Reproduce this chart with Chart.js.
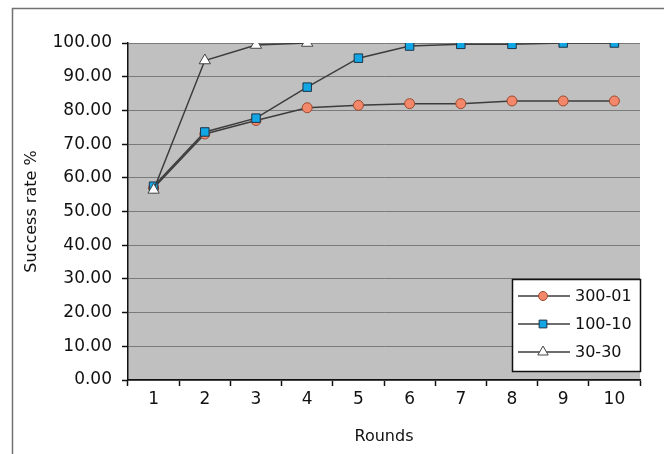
<!DOCTYPE html>
<html>
<head>
<meta charset="utf-8">
<script src="https://cdn.jsdelivr.net/npm/chart.js@4/dist/chart.umd.min.js"></script>
<style>
  html, body { margin: 0; padding: 0; background: #fff; }
  #wrap { position: relative; width: 664px; height: 454px; }
</style>
</head>
<body>
<div id="wrap"><canvas id="myLineChart" width="664" height="454"></canvas></div>
<script>
const rounds = ['1', '2', '3', '4', '5', '6', '7', '8', '9', '10'];
const yTicks = [0, 10, 20, 30, 40, 50, 60, 70, 80, 90, 100];
const seriesNames = ['300-01', '100-10', '30-30'];
const rate30001 = [57, 73, 77, 80.8, 81.5, 82, 82, 82.8, 82.8, 82.8];
const rate10010 = [57.5, 73.6, 77.7, 86.9, 95.5, 99.1, 99.6, 99.6, 100, 100];
const rate3030 = [56.4, 94.8, 99.4, 100, null, null, null, null, null, null];

const lineColor = '#3c3c3c';
const styles = [
    { pointStyle: 'circle', radius: 5, bg: '#f2876a', border: '#9a4a30' },
    { pointStyle: 'rect', radius: 6, bg: '#12a6e4', border: '#1c3448' },
    { pointStyle: 'triangle', radius: 6.5, bg: '#ffffff', border: '#444444' },
];
const fontFamily = '"DejaVu Sans", Verdana, sans-serif';

const frameAndBackground = {
    id: 'frameAndBackground',
    beforeDraw(chart) {
        const { ctx, chartArea: a } = chart;
        ctx.save();
        ctx.fillStyle = '#ffffff';
        ctx.fillRect(0, 0, chart.width, chart.height);
        ctx.strokeStyle = '#707070';
        ctx.lineWidth = 1.5;
        ctx.strokeRect(12.5, 8.5, 700, 500);
        ctx.fillStyle = '#c0c0c0';
        ctx.fillRect(a.left, a.top, a.right - a.left, a.bottom - a.top);
        ctx.restore();
    },
    afterDraw(chart) {
        // legend box inside the plot, Excel style
        const { ctx } = chart;
        const x = 512, y = 279, w = 128, h = 92;
        ctx.save();
        ctx.fillStyle = '#ffffff';
        ctx.fillRect(x, y, w, h);
        ctx.strokeStyle = '#111';
        ctx.lineWidth = 1.5;
        ctx.strokeRect(x + 0.5, y + 0.5, w, h);
        seriesNames.forEach((name, i) => {
            const cy = y + 17 + i * 28;
            ctx.strokeStyle = lineColor;
            ctx.lineWidth = 1.5;
            ctx.beginPath();
            ctx.moveTo(x + 6, cy);
            ctx.lineTo(x + 58, cy);
            ctx.stroke();
            const s = styles[i];
            ctx.fillStyle = s.bg;
            ctx.strokeStyle = s.border;
            ctx.lineWidth = 1;
            Chart.helpers.drawPoint(ctx, { pointStyle: s.pointStyle, radius: s.radius - 0.5, borderWidth: 1 }, x + 31, cy);
            ctx.fillStyle = '#111';
            ctx.font = '16px ' + fontFamily;
            ctx.textBaseline = 'middle';
            ctx.fillText(name, x + 63, cy + 1);
        });
        ctx.restore();
    },
};

const ctx = document.getElementById('myLineChart').getContext('2d');
const allData = [rate30001, rate10010, rate3030];
const chartData = {
    labels: rounds,
    datasets: allData.map((values, i) => ({
        label: seriesNames[i],
        data: values,
        borderColor: lineColor,
        borderWidth: 1.5,
        pointStyle: styles[i].pointStyle,
        pointRadius: styles[i].radius,
        pointBackgroundColor: styles[i].bg,
        pointBorderColor: styles[i].border,
        pointBorderWidth: 1,
        fill: false,
        tension: 0,
        spanGaps: false,
        order: 3 - i,
    })),
};

const tickFont = { family: fontFamily, size: 17 };
const titleFont = { family: fontFamily, size: 16 };

new Chart(ctx, {
    type: 'line',
    data: chartData,
    options: {
        responsive: false,
        animation: false,
        layout: { padding: { left: 14, top: 43, right: 24, bottom: 8 } },
        plugins: { legend: { display: false }, tooltip: { enabled: false } },
        scales: {
            x: {
                type: 'category',
                offset: true,
                grid: { offset: true, drawOnChartArea: false, tickLength: 6, tickColor: '#111', tickWidth: 1.5 },
                border: { color: '#111', width: 1.5 },
                ticks: { color: '#111', font: tickFont, padding: 3, maxRotation: 0 },
                title: { display: true, text: 'Rounds', color: '#111', font: titleFont, padding: { top: -6, bottom: 0 } },
                afterFit(scale) { scale.height = 66; },
            },
            y: {
                min: 0,
                max: 100,
                afterBuildTicks(scale) { scale.ticks = yTicks.map((v) => ({ value: v })); },
                grid: { color: '#7a7a7a', lineWidth: 1, tickLength: 6, tickColor: '#111', tickWidth: 1.5 },
                border: { color: '#111', width: 1.5 },
                ticks: { color: '#111', font: tickFont, padding: 10, callback: (v) => Number(v).toFixed(2) },
                title: { display: true, text: 'Success rate %', color: '#111', font: titleFont, padding: { top: 8, bottom: 0 } },
                afterFit(scale) { scale.width = 114; },
            },
        },
    },
    plugins: [frameAndBackground],
});
</script>
</body>
</html>
